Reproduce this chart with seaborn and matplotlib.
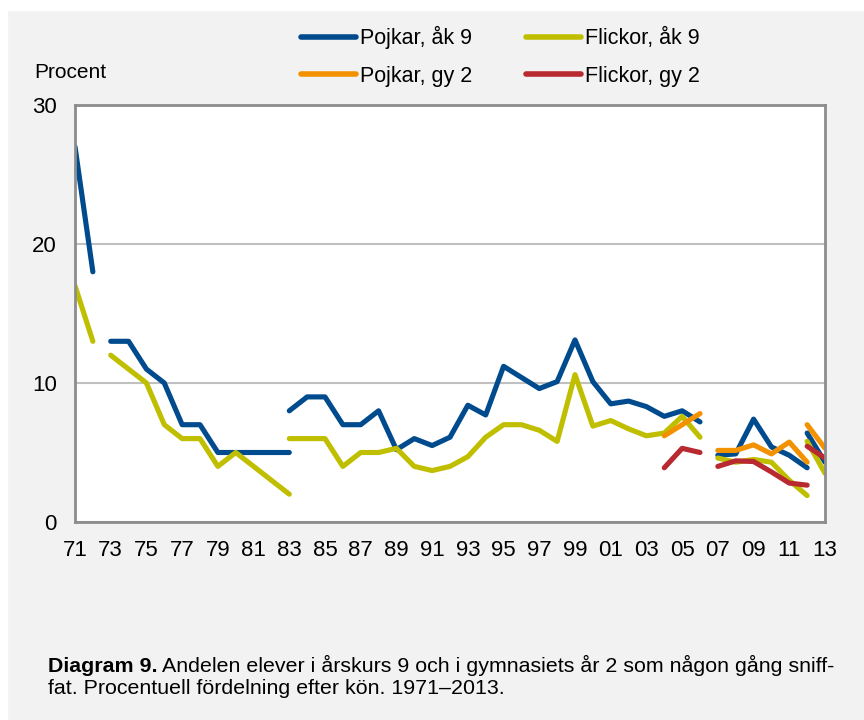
import matplotlib
matplotlib.use("Agg")
import matplotlib.pyplot as plt
import seaborn as sns
import pandas as pd

# series names (legend labels)
POJKAR_AK9 = "Pojkar, åk 9"
FLICKOR_AK9 = "Flickor, åk 9"
POJKAR_GY2 = "Pojkar, gy 2"
FLICKOR_GY2 = "Flickor, gy 2"

# each survey period is its own line segment (method changes break the lines)
pojkar_ak9_71 = [27, 18]                                   # 1971-1972
pojkar_ak9_73 = [13, 13, 11, 10, 7, 7, 5, 5, 5, 5, 5]      # 1973-1983
pojkar_ak9_83 = [8, 9, 9, 7, 7, 8, 5.2, 6, 5.5, 6.1, 8.4, 7.7, 11.2, 10.4,
                 9.6, 10.1, 13.1, 10.1, 8.5, 8.7, 8.3, 7.6, 8.0, 7.2]  # 1983-2006
pojkar_ak9_07 = [4.8, 4.9, 7.4, 5.4, 4.8, 3.9]             # 2007-2012
pojkar_ak9_12 = [6.4, 4.3]                                 # 2012-2013

flickor_ak9_71 = [17, 13]
flickor_ak9_73 = [12, 11, 10, 7, 6, 6, 4, 5, 4, 3, 2]
flickor_ak9_83 = [6, 6, 6, 4, 5, 5, 5.3, 4.0, 3.7, 4.0, 4.7, 6.1, 7.0, 7.0,
                  6.6, 5.8, 10.6, 6.9, 7.3, 6.7, 6.2, 6.4, 7.6, 6.1]
flickor_ak9_07 = [4.6, 4.3, 4.5, 4.3, 3.0, 1.9]
flickor_ak9_12 = [5.8, 3.5]

pojkar_gy2_04 = [6.2, 7.0, 7.8]                            # 2004-2006
pojkar_gy2_07 = [5.15, 5.15, 5.55, 4.9, 5.75, 4.3]
pojkar_gy2_12 = [7.0, 5.3]

flickor_gy2_04 = [3.9, 5.3, 5.0]
flickor_gy2_07 = [4.0, 4.4, 4.35, 3.6, 2.8, 2.65]
flickor_gy2_12 = [5.45, 4.6]

segments = [
    (POJKAR_AK9, 1971, pojkar_ak9_71), (POJKAR_AK9, 1973, pojkar_ak9_73),
    (POJKAR_AK9, 1983, pojkar_ak9_83), (POJKAR_AK9, 2007, pojkar_ak9_07),
    (POJKAR_AK9, 2012, pojkar_ak9_12),
    (FLICKOR_AK9, 1971, flickor_ak9_71), (FLICKOR_AK9, 1973, flickor_ak9_73),
    (FLICKOR_AK9, 1983, flickor_ak9_83), (FLICKOR_AK9, 2007, flickor_ak9_07),
    (FLICKOR_AK9, 2012, flickor_ak9_12),
    (POJKAR_GY2, 2004, pojkar_gy2_04), (POJKAR_GY2, 2007, pojkar_gy2_07),
    (POJKAR_GY2, 2012, pojkar_gy2_12),
    (FLICKOR_GY2, 2004, flickor_gy2_04), (FLICKOR_GY2, 2007, flickor_gy2_07),
    (FLICKOR_GY2, 2012, flickor_gy2_12),
]

rows = []
for i, (name, start, vals) in enumerate(segments):
    for k, v in enumerate(vals):
        rows.append({"year": start + k, "value": v, "serie": name, "segment": i})
df = pd.DataFrame(rows)

palette = {POJKAR_AK9: "#004b8d", FLICKOR_AK9: "#bfbf00",
           POJKAR_GY2: "#f39200", FLICKOR_GY2: "#b82a30"}

sns.set_style("white")
plt.rcParams["font.family"] = ["Liberation Sans", "DejaVu Sans"]
plt.rcParams["text.color"] = "black"
plt.rcParams["xtick.labelcolor"] = "black"
plt.rcParams["ytick.labelcolor"] = "black"

BG = "#f2f2f2"
fig = plt.figure(figsize=(8.64, 7.2), dpi=100, facecolor=BG)
# thin white margins at top and left like the source page
fig.patches.append(plt.Rectangle((0, 1 - 10 / 720), 1, 10 / 720, transform=fig.transFigure,
                                 color="white", zorder=0))
fig.patches.append(plt.Rectangle((0, 0), 7 / 864, 1, transform=fig.transFigure,
                                 color="white", zorder=0))

ax = fig.add_axes([75 / 864, 1 - 522 / 720, 750 / 864, 417 / 720])
ax.set_facecolor("white")

sns.lineplot(data=df, x="year", y="value", hue="serie", units="segment",
             estimator=None, sort=False,
             hue_order=[POJKAR_AK9, FLICKOR_AK9, POJKAR_GY2, FLICKOR_GY2],
             palette=palette, linewidth=3.7, solid_capstyle="round", ax=ax)

ax.set_xlim(1971, 2013)
ax.set_ylim(0, 30)
odd_years = list(range(1971, 2014, 2))
ax.set_xticks(odd_years)
ax.set_xticklabels([f"{y % 100:02d}" for y in odd_years])
ax.set_yticks([0, 10, 20, 30])
ax.set_yticklabels(["0", "10", "20", "30"])
ax.set_xlabel("")
ax.set_ylabel("")

ax.yaxis.grid(True, color="#c0c0c0", linewidth=1.5)
ax.set_axisbelow(True)
for s in ax.spines.values():
    s.set_color("#8c8c8c")
    s.set_linewidth(2)
ax.tick_params(axis="x", direction="out", length=5, width=1.5, color="#8c8c8c",
               labelsize=16, pad=8, labelcolor="black")
ax.tick_params(axis="y", length=0, labelsize=16, pad=13, labelcolor="black")

# legend in two columns above the plot
handles, labels = ax.get_legend_handles_labels()
order = [labels.index(n) for n in [POJKAR_AK9, POJKAR_GY2, FLICKOR_AK9, FLICKOR_GY2]]
ax.get_legend().remove()
leg = fig.legend([handles[i] for i in order], [labels[i] for i in order],
                 ncol=2, loc="upper left", bbox_to_anchor=(301 / 864, 1 - 26 / 720),
                 frameon=False, fontsize=15.5, handlelength=2.55, handletextpad=0.18,
                 columnspacing=2.5, labelspacing=0.78, borderpad=0, borderaxespad=0,
                 labelcolor="black")
for line in leg.get_lines():
    line.set_linewidth(4)

fig.text(34 / 864, 1 - 72 / 720, "Procent", fontsize=15, va="center", ha="left")

# caption with bold lead-in
fig.canvas.draw()
r = fig.canvas.get_renderer()
t1 = fig.text(48 / 864, 1 - 672 / 720, "Diagram 9.", fontsize=15.4, fontweight="bold",
              va="baseline", ha="left")
bb = t1.get_window_extent(renderer=r)
fig.text(bb.x1 / 864 + 5 / 864, 1 - 672 / 720,
         "Andelen elever i årskurs 9 och i gymnasiets år 2 som någon gång sniff-",
         fontsize=15.4, va="baseline", ha="left")
fig.text(48 / 864, 1 - 694 / 720, "fat. Procentuell fördelning efter kön. 1971–2013.",
         fontsize=15.4, va="baseline", ha="left")

fig.savefig("out.png", dpi=100, facecolor=BG)
